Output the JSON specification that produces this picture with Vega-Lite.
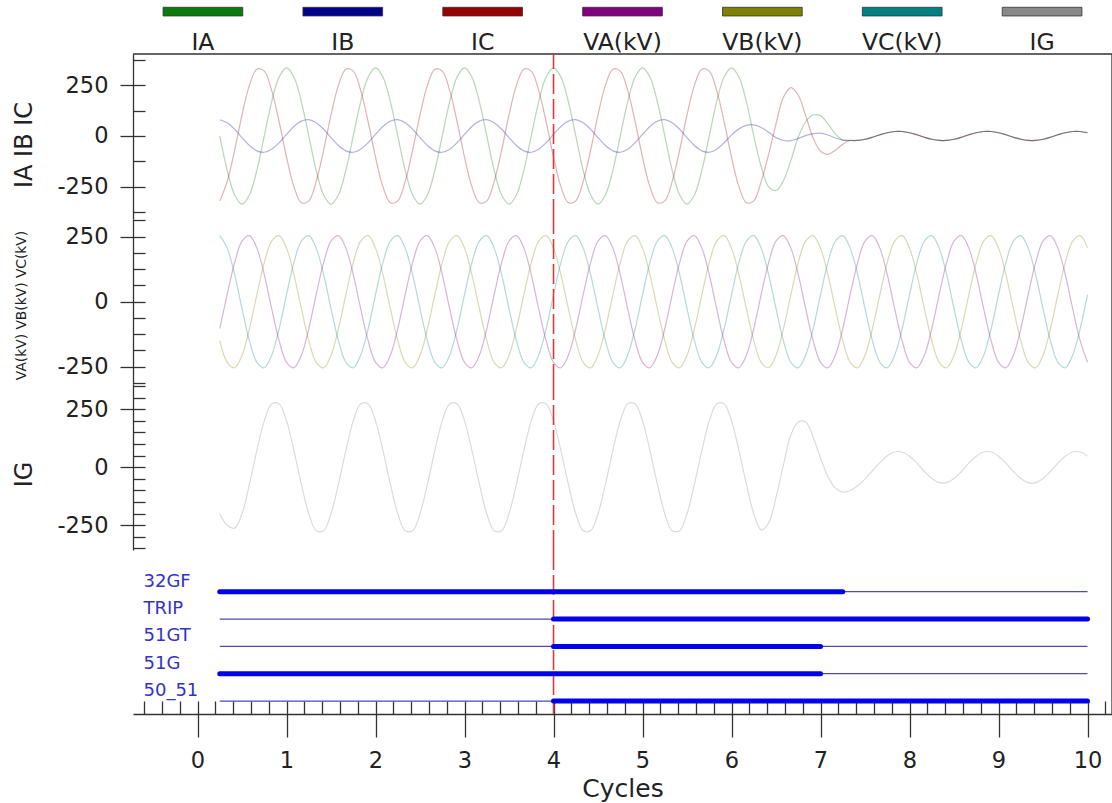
{
  "$schema": "https://vega.github.io/schema/vega-lite/v6.json",
  "padding": {"left": 12, "top": 0, "right": 0, "bottom": 0},
  "config": {
    "font": "DejaVu Sans",
    "view": {"stroke": null},
    "axis": {"grid": false, "domainColor": "#333333", "tickColor": "#333333", "domainWidth": 1.3, "tickWidth": 1.3, "labelColor": "#222222", "titleColor": "#222222", "titleFontWeight": "normal", "labelFont": "DejaVu Sans", "titleFont": "DejaVu Sans"}
  },
  "spacing": 0,
  "bounds": "flush",
  "datasets": {
    "one": [{}],
    "leg": [
      {"key": "IA", "label": "IA"}, {"key": "IB", "label": "IB"}, {"key": "IC", "label": "IC"},
      {"key": "VA", "label": "VA(kV)"}, {"key": "VB", "label": "VB(kV)"}, {"key": "VC", "label": "VC(kV)"},
      {"key": "IG", "label": "IG"}
    ],
    "dig": [
      {"ch": "32GF", "x0": 0.25, "x1": 7.25, "state": "on"},
      {"ch": "32GF", "x0": 7.25, "x1": 10, "state": "off"},
      {"ch": "TRIP", "x0": 0.25, "x1": 4, "state": "off"},
      {"ch": "TRIP", "x0": 4, "x1": 10, "state": "on"},
      {"ch": "51GT", "x0": 0.25, "x1": 4, "state": "off"},
      {"ch": "51GT", "x0": 4, "x1": 7.0, "state": "on"},
      {"ch": "51GT", "x0": 7.0, "x1": 10, "state": "off"},
      {"ch": "51G", "x0": 0.25, "x1": 7.0, "state": "on"},
      {"ch": "51G", "x0": 7.0, "x1": 10, "state": "off"},
      {"ch": "50_51", "x0": 0.25, "x1": 4, "state": "off"},
      {"ch": "50_51", "x0": 4, "x1": 10, "state": "on"}
    ],
    "diglab": [{"ch": "32GF"}, {"ch": "TRIP"}, {"ch": "51GT"}, {"ch": "51G"}, {"ch": "50_51"}],
    "wave": [
      {"t":0.25,"IA":0,"IB":80,"IC":-319,"VA":-104,"VB":-150,"VC":254,"IG":-200},
      {"t":0.333,"IA":-168,"IB":65,"IC":-224,"VA":27,"VB":-233,"VC":206,"IG":-250},
      {"t":0.417,"IA":-290,"IB":33,"IC":-70,"VA":150,"VB":-254,"VC":104,"IG":-262},
      {"t":0.5,"IA":-335,"IB":-8,"IC":104,"VA":233,"VB":-206,"VC":-27,"IG":-200},
      {"t":0.583,"IA":-290,"IB":-47,"IC":249,"VA":254,"VB":-104,"VC":-150,"IG":-73},
      {"t":0.667,"IA":-168,"IB":-73,"IC":328,"VA":206,"VB":27,"VC":-233,"IG":73},
      {"t":0.75,"IA":0,"IB":-80,"IC":319,"VA":104,"VB":150,"VC":-254,"IG":200},
      {"t":0.833,"IA":168,"IB":-65,"IC":224,"VA":-27,"VB":233,"VC":-206,"IG":273},
      {"t":0.917,"IA":290,"IB":-33,"IC":70,"VA":-150,"VB":254,"VC":-104,"IG":273},
      {"t":1,"IA":335,"IB":8,"IC":-104,"VA":-233,"VB":206,"VC":27,"IG":200},
      {"t":1.083,"IA":290,"IB":47,"IC":-249,"VA":-254,"VB":104,"VC":150,"IG":73},
      {"t":1.167,"IA":168,"IB":73,"IC":-328,"VA":-206,"VB":-27,"VC":233,"IG":-73},
      {"t":1.25,"IA":0,"IB":80,"IC":-319,"VA":-104,"VB":-150,"VC":254,"IG":-200},
      {"t":1.333,"IA":-168,"IB":65,"IC":-224,"VA":27,"VB":-233,"VC":206,"IG":-273},
      {"t":1.417,"IA":-290,"IB":33,"IC":-70,"VA":150,"VB":-254,"VC":104,"IG":-273},
      {"t":1.5,"IA":-335,"IB":-8,"IC":104,"VA":233,"VB":-206,"VC":-27,"IG":-200},
      {"t":1.583,"IA":-290,"IB":-47,"IC":249,"VA":254,"VB":-104,"VC":-150,"IG":-73},
      {"t":1.667,"IA":-168,"IB":-73,"IC":328,"VA":206,"VB":27,"VC":-233,"IG":73},
      {"t":1.75,"IA":0,"IB":-80,"IC":319,"VA":104,"VB":150,"VC":-254,"IG":200},
      {"t":1.833,"IA":168,"IB":-65,"IC":224,"VA":-27,"VB":233,"VC":-206,"IG":273},
      {"t":1.917,"IA":290,"IB":-33,"IC":70,"VA":-150,"VB":254,"VC":-104,"IG":273},
      {"t":2,"IA":335,"IB":8,"IC":-104,"VA":-233,"VB":206,"VC":27,"IG":200},
      {"t":2.083,"IA":290,"IB":47,"IC":-249,"VA":-254,"VB":104,"VC":150,"IG":73},
      {"t":2.167,"IA":168,"IB":73,"IC":-328,"VA":-206,"VB":-27,"VC":233,"IG":-73},
      {"t":2.25,"IA":0,"IB":80,"IC":-319,"VA":-104,"VB":-150,"VC":254,"IG":-200},
      {"t":2.333,"IA":-168,"IB":65,"IC":-224,"VA":27,"VB":-233,"VC":206,"IG":-273},
      {"t":2.417,"IA":-290,"IB":33,"IC":-70,"VA":150,"VB":-254,"VC":104,"IG":-273},
      {"t":2.5,"IA":-335,"IB":-8,"IC":104,"VA":233,"VB":-206,"VC":-27,"IG":-200},
      {"t":2.583,"IA":-290,"IB":-47,"IC":249,"VA":254,"VB":-104,"VC":-150,"IG":-73},
      {"t":2.667,"IA":-168,"IB":-73,"IC":328,"VA":206,"VB":27,"VC":-233,"IG":73},
      {"t":2.75,"IA":0,"IB":-80,"IC":319,"VA":104,"VB":150,"VC":-254,"IG":200},
      {"t":2.833,"IA":168,"IB":-65,"IC":224,"VA":-27,"VB":233,"VC":-206,"IG":273},
      {"t":2.917,"IA":290,"IB":-33,"IC":70,"VA":-150,"VB":254,"VC":-104,"IG":273},
      {"t":3,"IA":335,"IB":8,"IC":-104,"VA":-233,"VB":206,"VC":27,"IG":200},
      {"t":3.083,"IA":290,"IB":47,"IC":-249,"VA":-254,"VB":104,"VC":150,"IG":73},
      {"t":3.167,"IA":168,"IB":73,"IC":-328,"VA":-206,"VB":-27,"VC":233,"IG":-73},
      {"t":3.25,"IA":0,"IB":80,"IC":-319,"VA":-104,"VB":-150,"VC":254,"IG":-200},
      {"t":3.333,"IA":-168,"IB":65,"IC":-224,"VA":27,"VB":-233,"VC":206,"IG":-273},
      {"t":3.417,"IA":-290,"IB":33,"IC":-70,"VA":150,"VB":-254,"VC":104,"IG":-273},
      {"t":3.5,"IA":-335,"IB":-8,"IC":104,"VA":233,"VB":-206,"VC":-27,"IG":-200},
      {"t":3.583,"IA":-290,"IB":-47,"IC":249,"VA":254,"VB":-104,"VC":-150,"IG":-73},
      {"t":3.667,"IA":-168,"IB":-73,"IC":328,"VA":206,"VB":27,"VC":-233,"IG":73},
      {"t":3.75,"IA":0,"IB":-80,"IC":319,"VA":104,"VB":150,"VC":-254,"IG":200},
      {"t":3.833,"IA":168,"IB":-65,"IC":224,"VA":-27,"VB":233,"VC":-206,"IG":273},
      {"t":3.917,"IA":290,"IB":-33,"IC":70,"VA":-150,"VB":254,"VC":-104,"IG":273},
      {"t":4,"IA":335,"IB":8,"IC":-104,"VA":-233,"VB":206,"VC":27,"IG":200},
      {"t":4.083,"IA":290,"IB":47,"IC":-249,"VA":-254,"VB":104,"VC":150,"IG":73},
      {"t":4.167,"IA":168,"IB":73,"IC":-328,"VA":-206,"VB":-27,"VC":233,"IG":-73},
      {"t":4.25,"IA":0,"IB":80,"IC":-319,"VA":-104,"VB":-150,"VC":254,"IG":-200},
      {"t":4.333,"IA":-168,"IB":65,"IC":-224,"VA":27,"VB":-233,"VC":206,"IG":-273},
      {"t":4.417,"IA":-290,"IB":33,"IC":-70,"VA":150,"VB":-254,"VC":104,"IG":-273},
      {"t":4.5,"IA":-335,"IB":-8,"IC":104,"VA":233,"VB":-206,"VC":-27,"IG":-200},
      {"t":4.583,"IA":-290,"IB":-47,"IC":249,"VA":254,"VB":-104,"VC":-150,"IG":-73},
      {"t":4.667,"IA":-168,"IB":-73,"IC":328,"VA":206,"VB":27,"VC":-233,"IG":73},
      {"t":4.75,"IA":0,"IB":-80,"IC":319,"VA":104,"VB":150,"VC":-254,"IG":200},
      {"t":4.833,"IA":168,"IB":-65,"IC":224,"VA":-27,"VB":233,"VC":-206,"IG":273},
      {"t":4.917,"IA":290,"IB":-33,"IC":70,"VA":-150,"VB":254,"VC":-104,"IG":273},
      {"t":5,"IA":335,"IB":8,"IC":-104,"VA":-233,"VB":206,"VC":27,"IG":200},
      {"t":5.083,"IA":290,"IB":47,"IC":-249,"VA":-254,"VB":104,"VC":150,"IG":73},
      {"t":5.167,"IA":168,"IB":73,"IC":-328,"VA":-206,"VB":-27,"VC":233,"IG":-73},
      {"t":5.25,"IA":0,"IB":80,"IC":-319,"VA":-104,"VB":-150,"VC":254,"IG":-200},
      {"t":5.333,"IA":-168,"IB":65,"IC":-224,"VA":27,"VB":-233,"VC":206,"IG":-273},
      {"t":5.417,"IA":-290,"IB":33,"IC":-70,"VA":150,"VB":-254,"VC":104,"IG":-273},
      {"t":5.5,"IA":-335,"IB":-8,"IC":104,"VA":233,"VB":-206,"VC":-27,"IG":-200},
      {"t":5.583,"IA":-290,"IB":-47,"IC":249,"VA":254,"VB":-104,"VC":-150,"IG":-73},
      {"t":5.667,"IA":-168,"IB":-73,"IC":328,"VA":206,"VB":27,"VC":-233,"IG":73},
      {"t":5.75,"IA":0,"IB":-80,"IC":319,"VA":104,"VB":150,"VC":-254,"IG":200},
      {"t":5.833,"IA":168,"IB":-65,"IC":224,"VA":-27,"VB":233,"VC":-206,"IG":273},
      {"t":5.917,"IA":290,"IB":-33,"IC":70,"VA":-150,"VB":254,"VC":-104,"IG":273},
      {"t":6,"IA":335,"IB":5,"IC":-104,"VA":-233,"VB":206,"VC":27,"IG":200},
      {"t":6.083,"IA":290,"IB":35,"IC":-249,"VA":-254,"VB":104,"VC":150,"IG":73},
      {"t":6.167,"IA":168,"IB":52,"IC":-328,"VA":-206,"VB":-27,"VC":233,"IG":-73},
      {"t":6.25,"IA":0,"IB":55,"IC":-319,"VA":-104,"VB":-150,"VC":254,"IG":-200},
      {"t":6.333,"IA":-150,"IB":42,"IC":-224,"VA":27,"VB":-233,"VC":206,"IG":-270},
      {"t":6.417,"IA":-250,"IB":18,"IC":-90,"VA":150,"VB":-254,"VC":104,"IG":-240},
      {"t":6.5,"IA":-268,"IB":-8,"IC":60,"VA":233,"VB":-206,"VC":-27,"IG":-130},
      {"t":6.583,"IA":-220,"IB":-22,"IC":190,"VA":254,"VB":-104,"VC":-150,"IG":10},
      {"t":6.667,"IA":-120,"IB":-23,"IC":238,"VA":206,"VB":27,"VC":-233,"IG":140},
      {"t":6.75,"IA":-5,"IB":-12,"IC":200,"VA":104,"VB":150,"VC":-254,"IG":195},
      {"t":6.833,"IA":70,"IB":2,"IC":100,"VA":-27,"VB":233,"VC":-206,"IG":195},
      {"t":6.917,"IA":103,"IB":12,"IC":-10,"VA":-150,"VB":254,"VC":-104,"IG":130},
      {"t":7,"IA":100,"IB":14,"IC":-75,"VA":-233,"VB":206,"VC":27,"IG":40},
      {"t":7.083,"IA":60,"IB":5,"IC":-90,"VA":-254,"VB":104,"VC":150,"IG":-40},
      {"t":7.167,"IA":10,"IB":-10,"IC":-70,"VA":-206,"VB":-27,"VC":233,"IG":-90},
      {"t":7.25,"IA":-20,"IB":-20,"IC":-40,"VA":-104,"VB":-150,"VC":254,"IG":-107},
      {"t":7.333,"IA":-22,"IB":-22,"IC":-22,"VA":27,"VB":-233,"VC":206,"IG":-100},
      {"t":7.417,"IA":-22,"IB":-22,"IC":-22,"VA":150,"VB":-254,"VC":104,"IG":-80},
      {"t":7.5,"IA":-16,"IB":-16,"IC":-16,"VA":233,"VB":-206,"VC":-27,"IG":-50},
      {"t":7.583,"IA":-6,"IB":-6,"IC":-6,"VA":254,"VB":-104,"VC":-150,"IG":-15},
      {"t":7.667,"IA":6,"IB":6,"IC":6,"VA":206,"VB":27,"VC":-233,"IG":20},
      {"t":7.75,"IA":16,"IB":16,"IC":16,"VA":104,"VB":150,"VC":-254,"IG":50},
      {"t":7.833,"IA":22,"IB":22,"IC":22,"VA":-27,"VB":233,"VC":-206,"IG":66},
      {"t":7.917,"IA":22,"IB":22,"IC":22,"VA":-150,"VB":254,"VC":-104,"IG":66},
      {"t":8,"IA":16,"IB":16,"IC":16,"VA":-233,"VB":206,"VC":27,"IG":48},
      {"t":8.083,"IA":6,"IB":6,"IC":6,"VA":-254,"VB":104,"VC":150,"IG":18},
      {"t":8.167,"IA":-6,"IB":-6,"IC":-6,"VA":-206,"VB":-27,"VC":233,"IG":-18},
      {"t":8.25,"IA":-16,"IB":-16,"IC":-16,"VA":-104,"VB":-150,"VC":254,"IG":-48},
      {"t":8.333,"IA":-22,"IB":-22,"IC":-22,"VA":27,"VB":-233,"VC":206,"IG":-66},
      {"t":8.417,"IA":-22,"IB":-22,"IC":-22,"VA":150,"VB":-254,"VC":104,"IG":-66},
      {"t":8.5,"IA":-16,"IB":-16,"IC":-16,"VA":233,"VB":-206,"VC":-27,"IG":-48},
      {"t":8.583,"IA":-6,"IB":-6,"IC":-6,"VA":254,"VB":-104,"VC":-150,"IG":-18},
      {"t":8.667,"IA":6,"IB":6,"IC":6,"VA":206,"VB":27,"VC":-233,"IG":18},
      {"t":8.75,"IA":16,"IB":16,"IC":16,"VA":104,"VB":150,"VC":-254,"IG":48},
      {"t":8.833,"IA":22,"IB":22,"IC":22,"VA":-27,"VB":233,"VC":-206,"IG":66},
      {"t":8.917,"IA":22,"IB":22,"IC":22,"VA":-150,"VB":254,"VC":-104,"IG":66},
      {"t":9,"IA":16,"IB":16,"IC":16,"VA":-233,"VB":206,"VC":27,"IG":48},
      {"t":9.083,"IA":6,"IB":6,"IC":6,"VA":-254,"VB":104,"VC":150,"IG":18},
      {"t":9.167,"IA":-6,"IB":-6,"IC":-6,"VA":-206,"VB":-27,"VC":233,"IG":-18},
      {"t":9.25,"IA":-16,"IB":-16,"IC":-16,"VA":-104,"VB":-150,"VC":254,"IG":-48},
      {"t":9.333,"IA":-22,"IB":-22,"IC":-22,"VA":27,"VB":-233,"VC":206,"IG":-66},
      {"t":9.417,"IA":-22,"IB":-22,"IC":-22,"VA":150,"VB":-254,"VC":104,"IG":-66},
      {"t":9.5,"IA":-16,"IB":-16,"IC":-16,"VA":233,"VB":-206,"VC":-27,"IG":-48},
      {"t":9.583,"IA":-6,"IB":-6,"IC":-6,"VA":254,"VB":-104,"VC":-150,"IG":-18},
      {"t":9.667,"IA":6,"IB":6,"IC":6,"VA":206,"VB":27,"VC":-233,"IG":18},
      {"t":9.75,"IA":16,"IB":16,"IC":16,"VA":104,"VB":150,"VC":-254,"IG":48},
      {"t":9.833,"IA":22,"IB":22,"IC":22,"VA":-27,"VB":233,"VC":-206,"IG":66},
      {"t":9.917,"IA":22,"IB":22,"IC":22,"VA":-150,"VB":254,"VC":-104,"IG":66},
      {"t":10,"IA":16,"IB":16,"IC":16,"VA":-233,"VB":206,"VC":27,"IG":48}
    ]
  },
  "vconcat": [
    {
      "width": 979, "height": 54,
      "data": {"name": "leg"},
      "layer": [
        {
          "mark": {"type": "bar", "width": {"band": 0.57}, "stroke": "#333333", "strokeWidth": 0.8},
          "encoding": {
            "x": {"field": "key", "type": "nominal", "scale": {"domain": ["IA","IB","IC","VA","VB","VC","IG"], "paddingInner": 0, "paddingOuter": 0}, "axis": null},
            "y": {"datum": 8.65, "type": "quantitative", "scale": {"domain": [0, 10], "nice": false, "zero": false}, "axis": null},
            "y2": {"datum": 7.04},
            "color": {"field": "key", "type": "nominal", "scale": {"domain": ["IA","IB","IC","VA","VB","VC","IG"], "range": ["#0a7a0a","#00008b","#990000","#800080","#808000","#008080","#888888"]}, "legend": null}
          }
        },
        {
          "mark": {"type": "text", "fontSize": 23.5, "baseline": "alphabetic", "align": "center", "color": "#222222"},
          "encoding": {
            "x": {"field": "key", "type": "nominal", "axis": null},
            "y": {"datum": 0.74, "type": "quantitative", "axis": null},
            "text": {"field": "label"}
          }
        }
      ]
    },
    {
      "width": 979, "height": 165,
      "layer": [
        {
          "data": {"name": "wave"},
          "transform": [{"fold": ["IA","IB","IC"], "as": ["key","value"]}],
          "mark": {"type": "line", "interpolate": "catmull-rom", "strokeWidth": 1.2, "opacity": 0.3},
          "encoding": {
            "x": {"field": "t", "type": "quantitative", "scale": {"domain": [-0.725, 10.275], "nice": false, "zero": false}, "axis": null},
            "y": {"field": "value", "type": "quantitative", "scale": {"domain": [-408, 403], "nice": false, "zero": false},
                  "axis": {"orient": "left", "values": [-250, 0, 250], "tickSize": 13, "labelPadding": 12, "labelFontSize": 22.5, "labelExpr": "'' + datum.value", "title": "IA IB IC", "titleFontSize": 24, "titleAngle": -90, "titleAlign": "center", "titleBaseline": "middle", "titleX": -108.5, "titleY": 90.5}},
            "color": {"field": "key", "type": "nominal", "scale": {"domain": ["IA","IB","IC","VA","VB","VC","IG"], "range": ["#0a7a0a","#00008b","#990000","#800080","#808000","#008080","#888888"]}, "legend": null}
          }
        },
        {
          "data": {"name": "one"},
          "mark": {"type": "rule", "color": "#333333", "strokeWidth": 1.3},
          "encoding": {
            "x": {"datum": 10.275, "type": "quantitative", "axis": null},
            "y": {"datum": -408, "type": "quantitative", "axis": {"orient": "left", "values": [-375, -250, -125, 0, 125, 250, 375], "tickSize": -12, "labels": false, "domain": false, "title": null}},
            "y2": {"datum": 403}
          }
        },
        {
          "data": {"name": "one"},
          "mark": {"type": "rule", "color": "#333333", "strokeWidth": 1.3},
          "encoding": {
            "x": {"datum": -0.725, "type": "quantitative", "axis": null},
            "x2": {"datum": 10.275},
            "y": {"datum": 403, "type": "quantitative", "axis": null}
          }
        },
        {
          "data": {"name": "one"},
          "mark": {"type": "rule", "color": "#dd3b3b", "strokeWidth": 1.6, "strokeDash": [20, 5]},
          "encoding": {
            "x": {"datum": 4, "type": "quantitative", "axis": null},
            "y": {"datum": -408, "type": "quantitative", "axis": null},
            "y2": {"datum": 403}
          }
        }
      ],
      "resolve": {"axis": {"y": "independent"}}
    },
    {
      "width": 979, "height": 165,
      "layer": [
        {
          "data": {"name": "wave"},
          "transform": [{"fold": ["VA","VB","VC"], "as": ["key","value"]}],
          "mark": {"type": "line", "interpolate": "catmull-rom", "strokeWidth": 1.2, "opacity": 0.3},
          "encoding": {
            "x": {"field": "t", "type": "quantitative", "scale": {"domain": [-0.725, 10.275], "nice": false, "zero": false}, "axis": null},
            "y": {"field": "value", "type": "quantitative", "scale": {"domain": [-316.5, 318], "nice": false, "zero": false},
                  "axis": {"orient": "left", "values": [-250, 0, 250], "tickSize": 13, "labelPadding": 12, "labelFontSize": 22.5, "labelExpr": "'' + datum.value", "title": "VA(kV) VB(kV) VC(kV)", "titleFontSize": 13.8, "titleAngle": -90, "titleAlign": "center", "titleBaseline": "middle", "titleX": -112, "titleY": 86}},
            "color": {"field": "key", "type": "nominal", "scale": {"domain": ["IA","IB","IC","VA","VB","VC","IG"], "range": ["#0a7a0a","#00008b","#990000","#800080","#808000","#008080","#888888"]}, "legend": null}
          }
        },
        {
          "data": {"name": "one"},
          "mark": {"type": "rule", "color": "#333333", "strokeWidth": 1.3},
          "encoding": {
            "x": {"datum": 10.275, "type": "quantitative", "axis": null},
            "y": {"datum": -316.5, "type": "quantitative", "axis": {"orient": "left", "values": [-312.5, -250, -187.5, -125, -62.5, 0, 62.5, 125, 187.5, 250, 312.5], "tickSize": -12, "labels": false, "domain": false, "title": null}},
            "y2": {"datum": 318}
          }
        },
        {
          "data": {"name": "one"},
          "mark": {"type": "rule", "color": "#dd3b3b", "strokeWidth": 1.6, "strokeDash": [20, 5]},
          "encoding": {
            "x": {"datum": 4, "type": "quantitative", "axis": null},
            "y": {"datum": -316.5, "type": "quantitative", "axis": null},
            "y2": {"datum": 318}
          }
        }
      ],
      "resolve": {"axis": {"y": "independent"}}
    },
    {
      "width": 979, "height": 166,
      "layer": [
        {
          "data": {"name": "wave"},
          "transform": [{"fold": ["IG"], "as": ["key","value"]}],
          "mark": {"type": "line", "interpolate": "catmull-rom", "strokeWidth": 1.2, "opacity": 0.3},
          "encoding": {
            "x": {"field": "t", "type": "quantitative", "scale": {"domain": [-0.725, 10.275], "nice": false, "zero": false}, "axis": null},
            "y": {"field": "value", "type": "quantitative", "scale": {"domain": [-356.5, 359], "nice": false, "zero": false},
                  "axis": {"orient": "left", "values": [-250, 0, 250], "tickSize": 13, "labelPadding": 12, "labelFontSize": 22.5, "labelExpr": "'' + datum.value", "title": "IG", "titleFontSize": 24, "titleAngle": -90, "titleAlign": "center", "titleBaseline": "middle", "titleX": -108.5, "titleY": 90}},
            "color": {"field": "key", "type": "nominal", "scale": {"domain": ["IA","IB","IC","VA","VB","VC","IG"], "range": ["#0a7a0a","#00008b","#990000","#800080","#808000","#008080","#888888"]}, "legend": null}
          }
        },
        {
          "data": {"name": "one"},
          "mark": {"type": "rule", "color": "#333333", "strokeWidth": 1.3},
          "encoding": {
            "x": {"datum": 10.275, "type": "quantitative", "axis": null},
            "y": {"datum": -356.5, "type": "quantitative", "axis": {"orient": "left", "values": [-350, -300, -250, -200, -150, -100, -50, 0, 50, 100, 150, 200, 250, 300, 350], "tickSize": -12, "labels": false, "domain": false, "title": null}},
            "y2": {"datum": 359}
          }
        },
        {
          "data": {"name": "one"},
          "mark": {"type": "rule", "color": "#dd3b3b", "strokeWidth": 1.6, "strokeDash": [20, 5]},
          "encoding": {
            "x": {"datum": 4, "type": "quantitative", "axis": null},
            "y": {"datum": -356.5, "type": "quantitative", "axis": null},
            "y2": {"datum": 359}
          }
        }
      ],
      "resolve": {"axis": {"y": "independent"}}
    },
    {
      "width": 979, "height": 164,
      "layer": [
        {
          "data": {"name": "one"},
          "mark": {"type": "rule", "color": "#dd3b3b", "strokeWidth": 1.6, "strokeDash": [20, 5]},
          "encoding": {
            "x": {"datum": 4, "type": "quantitative",
              "axis": {"orient": "bottom", "values": [-0.6,-0.4,-0.2,0,0.2,0.4,0.6,0.8,1,1.2,1.4,1.6,1.8,2,2.2,2.4,2.6,2.8,3,3.2,3.4,3.6,3.8,4,4.2,4.4,4.6,4.8,5,5.2,5.4,5.6,5.8,6,6.2,6.4,6.6,6.8,7,7.2,7.4,7.6,7.8,8,8.2,8.4,8.6,8.8,9,9.2,9.4,9.6,9.8,10,10.2], "tickSize": -13, "labels": false, "domain": false, "title": null}}
          }
        },
        {
          "data": {"name": "one"},
          "mark": {"type": "rule", "color": "#333333", "strokeWidth": 1.3},
          "encoding": {
            "x": {"datum": 10.275, "type": "quantitative", "axis": null}
          }
        },
        {
          "data": {"name": "dig"},
          "transform": [{"filter": "datum.state === 'off'"}],
          "mark": {"type": "rule", "color": "#4a4ab8", "strokeWidth": 1.3},
          "encoding": {
            "x": {"field": "x0", "type": "quantitative", "scale": {"domain": [-0.725, 10.275], "nice": false, "zero": false},
                  "axis": {"orient": "bottom", "values": [0,1,2,3,4,5,6,7,8,9,10], "tickSize": 23, "labelPadding": 12, "labelFontSize": 22.5, "labelFlush": false, "labelOverlap": false, "title": "Cycles", "titleFontSize": 25, "titlePadding": 5}},
            "x2": {"field": "x1"},
            "y": {"field": "ch", "type": "nominal", "scale": {"type": "point", "domain": ["32GF","TRIP","51GT","51G","50_51"], "padding": 1.026, "align": 0.763},
                  "axis": {"orient": "left", "values": ["TRIP"], "labels": false, "tickSize": -10, "tickOffset": 12.8, "title": "Digitals", "titleFontSize": 24, "titleAngle": -90, "titleAlign": "center", "titleBaseline": "middle", "titleX": -108.5, "titleY": 90}}
          }
        },
        {
          "data": {"name": "dig"},
          "transform": [{"filter": "datum.state === 'on'"}],
          "mark": {"type": "rule", "color": "#0000e8", "strokeWidth": 5, "strokeCap": "round"},
          "encoding": {
            "x": {"field": "x0", "type": "quantitative", "axis": null},
            "x2": {"field": "x1"},
            "y": {"field": "ch", "type": "nominal", "axis": null}
          }
        },
        {
          "data": {"name": "diglab"},
          "mark": {"type": "text", "align": "left", "baseline": "alphabetic", "dy": -5, "fontSize": 18, "color": "#3232c8"},
          "encoding": {
            "x": {"datum": -0.607, "type": "quantitative", "axis": null},
            "y": {"field": "ch", "type": "nominal", "axis": null},
            "text": {"field": "ch"}
          }
        }
      ],
      "resolve": {"axis": {"x": "independent"}}
    }
  ]
}
